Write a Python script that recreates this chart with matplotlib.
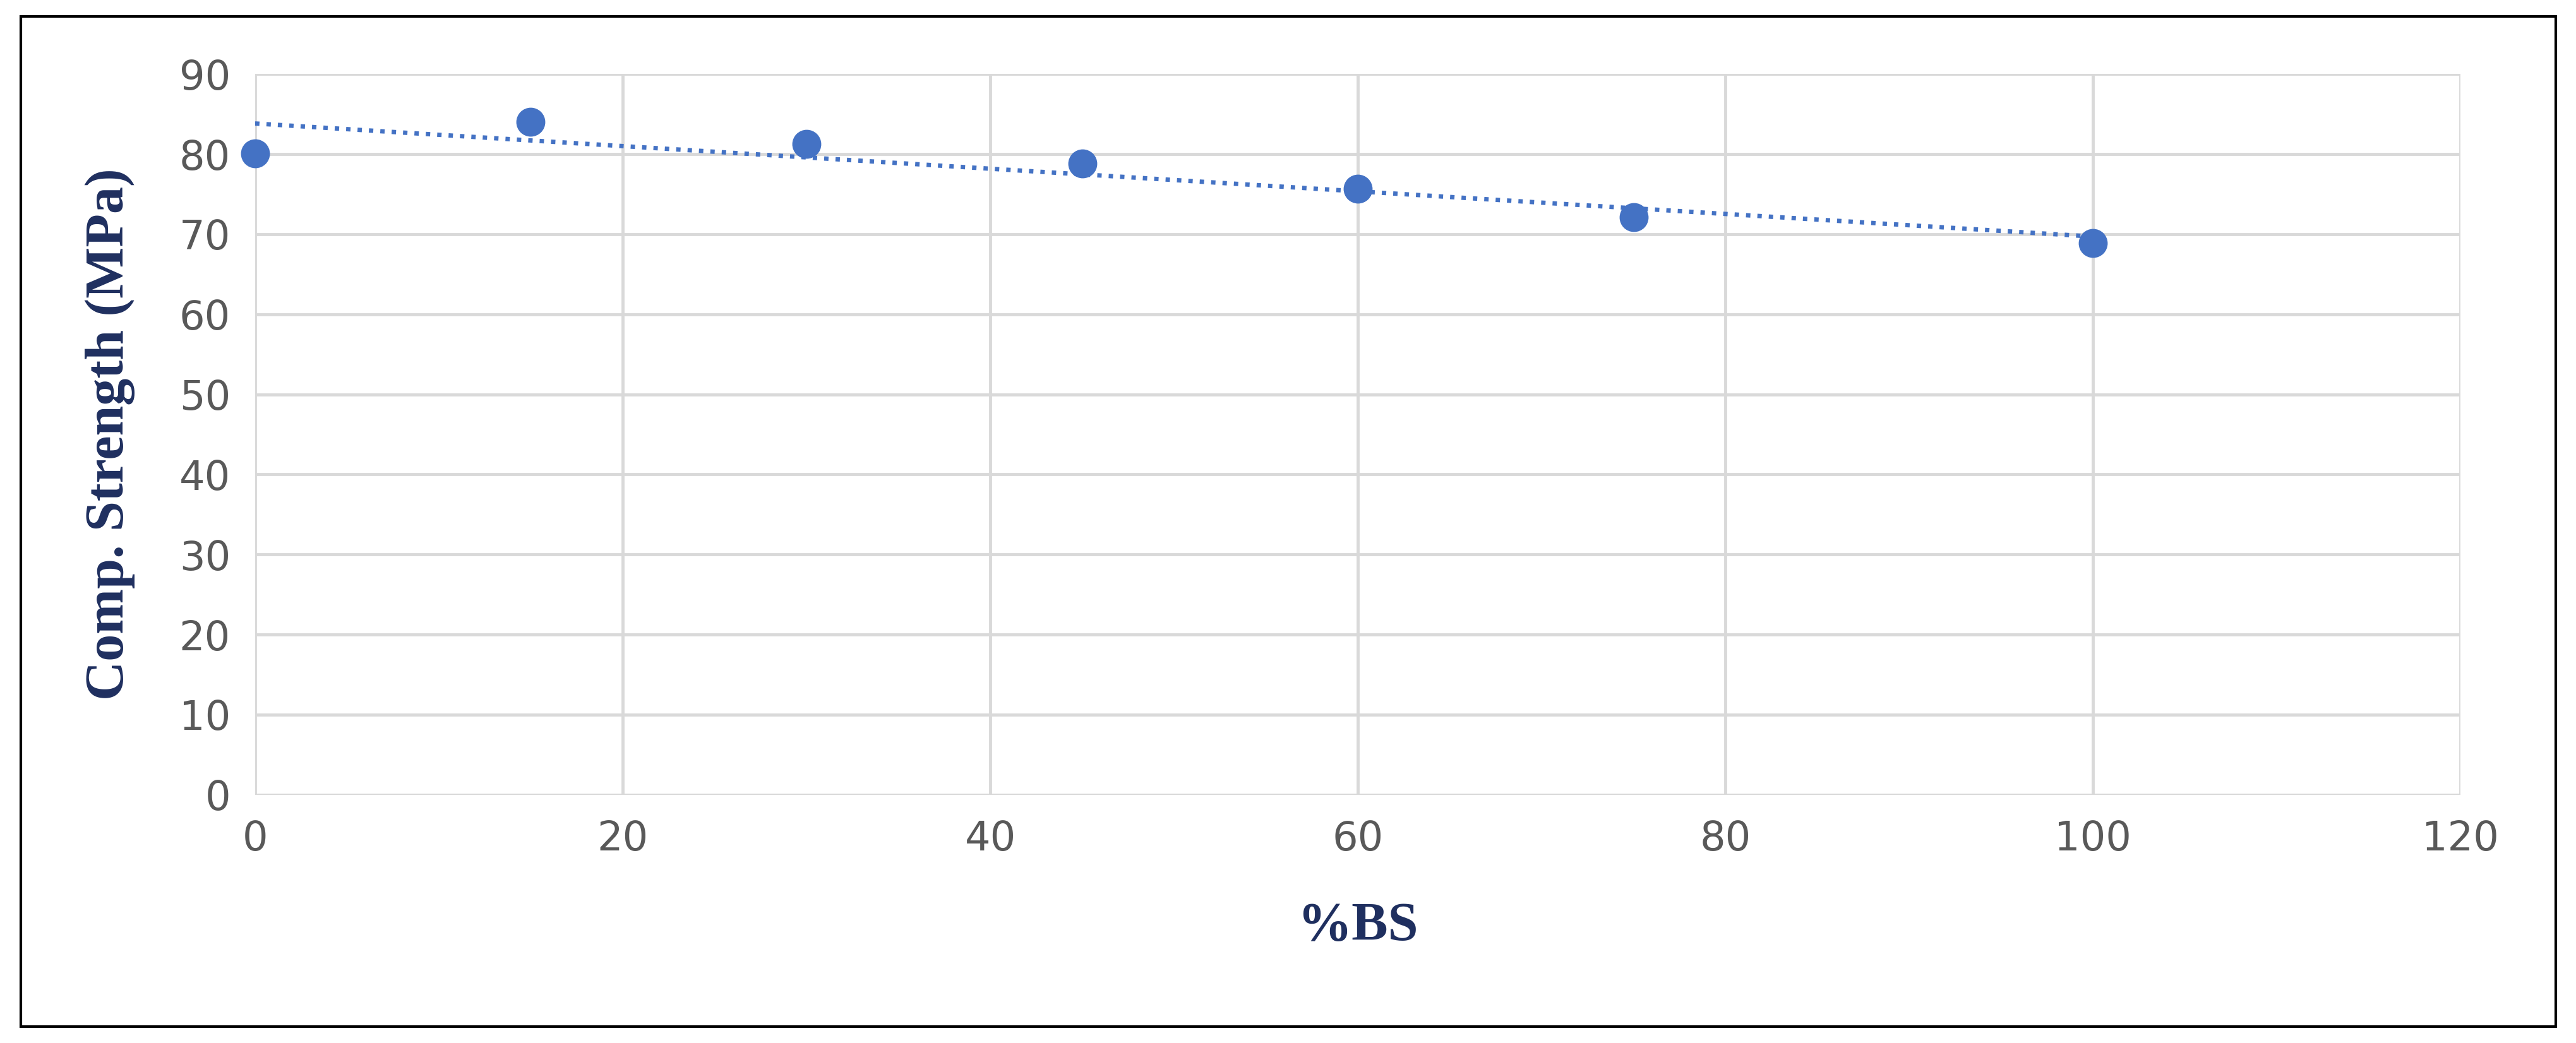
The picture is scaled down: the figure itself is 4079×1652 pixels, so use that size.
import numpy as np
import matplotlib.pyplot as plt
from matplotlib.patches import Rectangle

pct_bs = [0, 15, 30, 45, 60, 75, 100]
strength = [80.1, 84.0, 81.3, 78.8, 75.7, 72.1, 68.9]

fig = plt.figure(figsize=(40.8, 16.52), dpi=100)
ax = fig.add_axes([0.099, 0.238, 0.856, 0.691])

# linear trendline from the data
k, b = np.polyfit(pct_bs, strength, 1)
xt = np.array([0, 100])
ax.plot(xt, k * xt + b, linestyle=(0, (1, 1.6)), color="#4472C4", lw=5, zorder=3)
ax.plot(pct_bs, strength, "o", color="#4472C4", markersize=32, zorder=4, clip_on=False)

ax.set_xlim(0, 120)
ax.set_ylim(0, 90)
ax.set_xticks(range(0, 121, 20))
ax.set_yticks(range(0, 91, 10))
ax.grid(True, color="#d9d9d9", lw=3.5)
ax.set_axisbelow(True)
for s in ax.spines.values():
    s.set_visible(False)
ax.tick_params(length=0, labelsize=46, colors="#595959", pad=28)

lab = dict(family="Liberation Serif", fontweight="bold", color="#1F2F5F", fontsize=62)
ax.set_xlabel("%BS", labelpad=50, **lab)
ax.set_ylabel("Comp. Strength (MPa)", labelpad=50, **lab)

fig.patches.append(Rectangle((0.008, 0.016), 0.984, 0.968, transform=fig.transFigure,
                             fill=False, edgecolor="black", lw=3))
fig.savefig("out.png", dpi=100)
